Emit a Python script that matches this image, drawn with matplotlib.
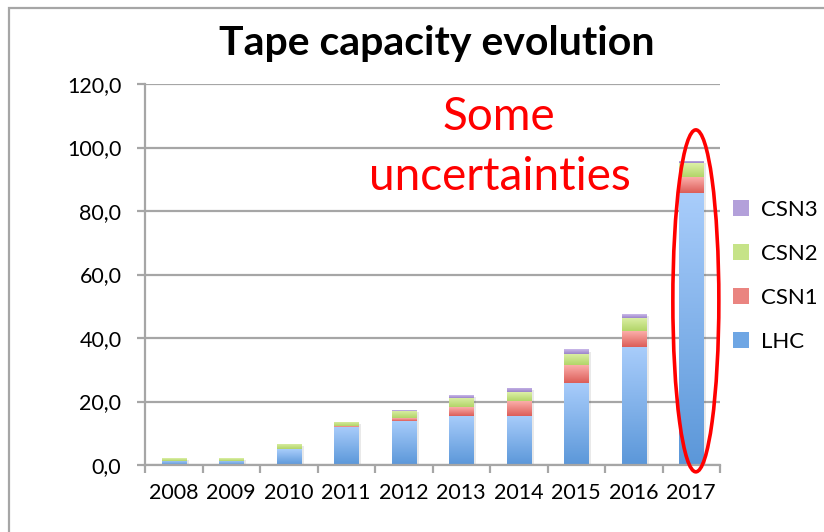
import numpy as np
import matplotlib
matplotlib.use("Agg")
import matplotlib.pyplot as plt
from matplotlib.colors import LinearSegmentedColormap
from matplotlib.patches import Ellipse, Rectangle
import matplotlib.patheffects as pe

plt.rcParams['font.family'] = ['Lato', 'DejaVu Sans']

years = ["2008", "2009", "2010", "2011", "2012", "2013", "2014", "2015", "2016", "2017"]
lhc  = [1.3, 1.3, 4.9, 12.1, 14.0, 15.5, 15.5, 25.9, 37.3, 85.8]
csn1 = [0.1, 0.1, 0.1, 0.1, 0.8, 2.7, 4.6, 5.6, 5.0, 5.0]
csn2 = [0.8, 0.8, 1.7, 1.5, 2.3, 2.9, 2.8, 3.5, 4.1, 4.2]
csn3 = [0.0, 0.0, 0.0, 0.0, 0.1, 0.9, 1.4, 1.4, 1.1, 0.7]
series_names = ["LHC", "CSN1", "CSN2", "CSN3"]
yticks = [0, 20, 40, 60, 80, 100, 120]

# (top colour, bottom colour) gradient for each series
gradients = {
    "LHC":  ("#a9cdfb", "#5b97d9"),
    "CSN1": ("#fbaeaa", "#dc5d58"),
    "CSN2": ("#ddf0a8", "#b2d568"),
    "CSN3": ("#cbb9ea", "#9b85c9"),
}
legend_colors = {
    "LHC":  "#6ea6e4",
    "CSN1": "#ea8480",
    "CSN2": "#c6e388",
    "CSN3": "#b3a0da",
}

fig = plt.figure(figsize=(8.24, 5.32), dpi=100)
ax = fig.add_axes([145/824, 1-465/532, 575/824, 381/532])

x = np.arange(len(years))
width = 0.42
bottom = np.zeros(len(years))
grad = np.linspace(0, 1, 256).reshape(-1, 1)

for name, vals in zip(series_names, [lhc, csn1, csn2, csn3]):
    vals = np.array(vals)
    bars = ax.bar(x, vals, width, bottom=bottom, color="none", edgecolor="none",
                  label=name, zorder=3)
    cmap = LinearSegmentedColormap.from_list(name, [gradients[name][1], gradients[name][0]])
    for b in bars:
        if b.get_height() <= 0:
            continue
        x0, y0 = b.get_x(), b.get_y()
        x1, y1 = x0 + b.get_width(), y0 + b.get_height()
        # soft shadow
        sh = Rectangle((x0, y0), b.get_width(), b.get_height(), facecolor="#000000",
                       alpha=0.0, zorder=2,
                       path_effects=[pe.SimplePatchShadow(offset=(2, -1.5), alpha=0.12)])
        ax.add_patch(sh)
        im = ax.imshow(grad, cmap=cmap, origin="lower", aspect="auto",
                       extent=(x0, x1, y0, y1), zorder=3, interpolation="bilinear")
        im.set_clip_path(b)
    bottom = bottom + vals

ax.set_xlim(-0.5, len(years) - 0.5)
ax.set_ylim(0, 120)
ax.set_yticks(yticks)
ax.set_yticklabels([f"{v:.1f}".replace(".", ",") for v in yticks])
ax.yaxis.grid(True, color="#a6a6a6", linewidth=1.6, zorder=0)
ax.set_axisbelow(True)

# category boundaries carry the tick marks, labels sit at the centres
ax.set_xticks(np.arange(-0.5, len(years)), minor=False)
ax.set_xticklabels([])
ax.set_xticks(x, minor=True)
ax.set_xticklabels(years, minor=True)
ax.tick_params(axis="x", which="major", length=6, width=1.6, color="#a6a6a6", direction="out")
ax.tick_params(axis="x", which="minor", length=0, pad=13, labelsize=15.5)
ax.tick_params(axis="y", length=6, width=1.6, color="#a6a6a6", direction="out", pad=11,
               labelsize=15.5)

for s in ["top", "right"]:
    ax.spines[s].set_visible(False)
for s in ["left", "bottom"]:
    ax.spines[s].set_color("#a6a6a6")
    ax.spines[s].set_linewidth(1.6)
ax.spines["left"].set_zorder(4)
ax.spines["bottom"].set_zorder(4)

# highlight of the last year
ell = Ellipse((9.08, 51.7), 0.8, 107.7, fill=False, edgecolor="#ff0000",
              linewidth=2.6, zorder=6, clip_on=False)
ax.add_patch(ell)

fig.text(499/824, 1-117/532, "Some", color="#ff0000", fontsize=33,
         ha="center", va="center")
fig.text(500/824, 1-177/532, "uncertainties", color="#ff0000", fontsize=33,
         ha="center", va="center")

fig.text(437/824, 1-44/532, "Tape capacity evolution", fontsize=29.5,
         fontweight="bold", ha="center", va="center")

handles, labels = ax.get_legend_handles_labels()
legend_handles = [Rectangle((0, 0), 1, 1, facecolor=legend_colors[l], edgecolor="none")
                  for l in labels]
fig.legend(legend_handles[::-1], labels[::-1], loc="upper left",
           bbox_to_anchor=(733/824, 1-200/532), frameon=False, fontsize=16,
           handlelength=0.7, handleheight=0.7, handletextpad=0.55,
           labelspacing=1.08, borderaxespad=0, borderpad=0)

# outer chart border
fig.patches.append(Rectangle((9/824, -0.1), 1.2, 1 - 8/532 + 0.1,
                             transform=fig.transFigure, fill=False,
                             edgecolor="#a6a6a6", linewidth=1.6))

fig.savefig("out.png", dpi=100)
